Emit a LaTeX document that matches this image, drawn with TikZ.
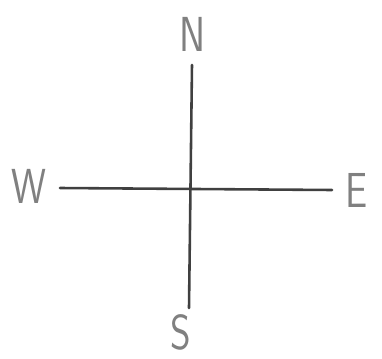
\documentclass[tikz,border=0pt]{standalone}
\usetikzlibrary{positioning}
\tikzset{
  axis/.style={
    draw=black!75,
    line width=2.2pt,
    line cap=round
  },
  point/.style={
    inner sep=0pt,
    text=black!50,
    font=\sffamily\fontsize{42}{42}\selectfont,
    xscale=0.8
  },
}
\begin{document}
\begin{tikzpicture}[x=0.03cm,y=-0.03cm]
\useasboundingbox (0,0) rectangle (382,359);
\coordinate (top) at (192,65);
\coordinate (bottom) at (189,308);
\coordinate (left) at (60,188);
\coordinate (right) at (332,190);
\draw[axis] (top) -- (bottom);
\draw[axis] (left) -- (right);
\node[point] (north) at (193,34) {N};
\node[point] (south) at (181,332) {S};
\node[point] (west) at (29,186) {W};
\node[point] (east) at (357,190) {E};
\end{tikzpicture}
\end{document}
